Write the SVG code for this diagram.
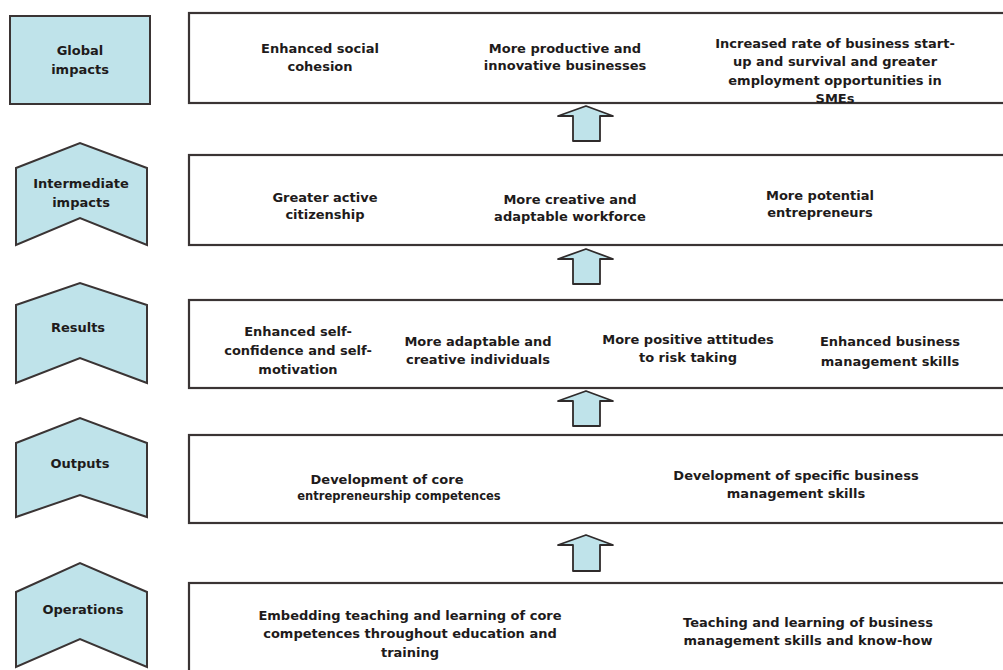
<svg xmlns="http://www.w3.org/2000/svg" width="1003" height="670" viewBox="0 0 1003 670">
<style>
  .lbl{fill:#bfe3ea;stroke:#3a3434;stroke-width:2;stroke-linejoin:miter}
  .box{fill:#ffffff;stroke:#3a3434;stroke-width:2.2}
  .arr{fill:#bfe3ea;stroke:#2f2b2b;stroke-width:1.8;stroke-linejoin:round}
  text{font-family:"DejaVu Sans","Liberation Sans",sans-serif;font-weight:bold;font-size:13px;fill:#1e1b1b;text-anchor:middle}
  .sm{font-size:11.5px}
</style>
<rect width="1003" height="670" fill="#ffffff"/>

<g id="label-global">
  <rect class="lbl" x="10" y="16" width="140" height="88"/>
  <text x="80" y="55">Global</text>
  <text x="80" y="74">impacts</text>
</g>
<g id="label-intermediate">
  <path class="lbl" d="M16,168 L80,143 L147,168 L147,245 L80,218 L16,245 Z"/>
  <text x="81" y="188">Intermediate</text>
  <text x="81" y="207">impacts</text>
</g>
<g id="label-results">
  <path class="lbl" d="M16,305 L80,283 L147,305 L147,383 L80,358 L16,383 Z"/>
  <text x="78" y="332">Results</text>
</g>
<g id="label-outputs">
  <path class="lbl" d="M16,443 L80,418 L147,443 L147,517 L80,495 L16,517 Z"/>
  <text x="80" y="468">Outputs</text>
</g>
<g id="label-operations">
  <path class="lbl" d="M16,592 L80,563 L147,592 L147,667 L80,639 L16,667 Z"/>
  <text x="83" y="614">Operations</text>
</g>

<g id="row-global">
  <rect class="box" x="189" y="13" width="830" height="90"/>
  <text x="320" y="53">Enhanced social</text>
  <text x="320" y="71">cohesion</text>
  <text x="565" y="53">More productive and</text>
  <text x="565" y="70">innovative businesses</text>
  <text x="835" y="48">Increased rate of business start-</text>
  <text x="835" y="66">up and survival and greater</text>
  <text x="835" y="85">employment opportunities in</text>
  <text x="835" y="103">SMEs</text>
</g>
<g id="row-intermediate">
  <rect class="box" x="189" y="155" width="830" height="90"/>
  <text x="325" y="202">Greater active</text>
  <text x="325" y="219">citizenship</text>
  <text x="570" y="204">More creative and</text>
  <text x="570" y="221">adaptable workforce</text>
  <text x="820" y="200">More potential</text>
  <text x="820" y="217">entrepreneurs</text>
</g>
<g id="row-results">
  <rect class="box" x="189" y="300" width="830" height="88"/>
  <text x="298" y="336">Enhanced self-</text>
  <text x="298" y="355">confidence and self-</text>
  <text x="298" y="374">motivation</text>
  <text x="478" y="346">More adaptable and</text>
  <text x="478" y="364">creative individuals</text>
  <text x="688" y="344">More positive attitudes</text>
  <text x="688" y="362">to risk taking</text>
  <text x="890" y="346">Enhanced business</text>
  <text x="890" y="366">management skills</text>
</g>
<g id="row-outputs">
  <rect class="box" x="189" y="435" width="830" height="88"/>
  <text x="387" y="484">Development of core</text>
  <text class="sm" x="399" y="500">entrepreneurship competences</text>
  <text x="796" y="480">Development of specific business</text>
  <text x="796" y="498">management skills</text>
</g>
<g id="row-operations">
  <rect class="box" x="189" y="583" width="830" height="100"/>
  <text x="410" y="620">Embedding teaching and learning of core</text>
  <text x="410" y="638">competences throughout education and</text>
  <text x="410" y="657">training</text>
  <text x="808" y="627">Teaching and learning of business</text>
  <text x="808" y="645">management skills and know-how</text>
</g>

<g id="connectors">
  <path class="arr" d="M558,116 L586,106 L613,116 L600,116 L600,141 L573,141 L573,116 Z"/>
  <path class="arr" d="M558,259 L586,249 L613,259 L600,259 L600,284 L573,284 L573,259 Z"/>
  <path class="arr" d="M558,401 L586,391 L613,401 L600,401 L600,426 L573,426 L573,401 Z"/>
  <path class="arr" d="M558,545 L586,535 L613,545 L600,545 L600,571 L573,571 L573,545 Z"/>
</g>
</svg>
